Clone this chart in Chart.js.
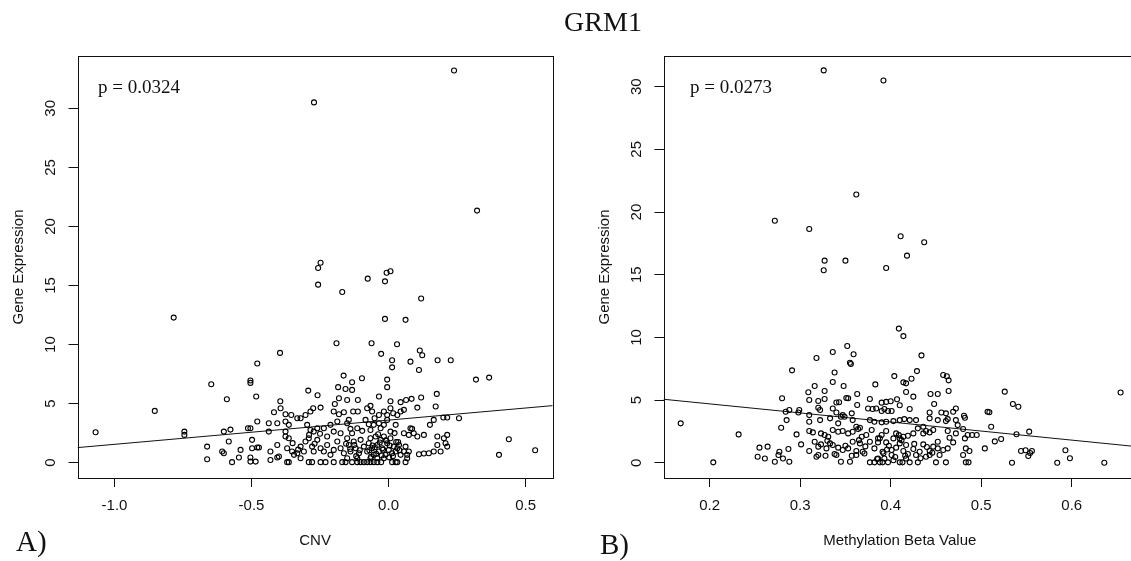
<!DOCTYPE html>
<html>
<head>
<meta charset="utf-8">
<script src="https://cdn.jsdelivr.net/npm/chart.js@4.4.0/dist/chart.umd.min.js"></script>
<style>
html, body { margin: 0; padding: 0; background: #fff; overflow: hidden; width: 1131px; height: 561px; }
canvas { position: absolute; top: 0; }
.lbl { position: absolute; font-family: "Liberation Serif", "Times New Roman", serif; color: #111; line-height: 1; white-space: nowrap; }
</style>
</head>
<body>
<canvas id="panelA" width="560" height="561" style="left:0px"></canvas>
<canvas id="panelB" width="580" height="561" style="left:586px"></canvas>
<div class="lbl" style="left:603px; top:8px; font-size:28px; transform:translateX(-50%)">GRM1</div>
<div class="lbl" style="left:98px; top:77px; font-size:19px">p = 0.0324</div>
<div class="lbl" style="left:690px; top:77px; font-size:19px">p = 0.0273</div>
<div class="lbl" style="left:16px; top:527px; font-size:29px">A)</div>
<div class="lbl" style="left:600px; top:530px; font-size:29px">B)</div>
<script>
"use strict";

// panel A: CNV vs gene expression
const cnvX = [
  -0.272, 0.239, 0.323, -0.248, -0.257, -0.257, 0.007, -0.007, -0.076, -0.013, -0.169, 0.119, -0.784, -0.013, 0.062,
  -0.19, -0.062, 0.031, -0.396, -0.027, 0.114, 0.123, 0.013, 0.013, 0.08, 0.179, 0.227, -0.479, 0.111,
  -0.647, -0.504, -0.504, -0.164, -0.097, -0.133, -0.184, -0.157, -0.133, -0.005, -0.005, 0.319, 0.367, -0.59, -0.483,
  -0.293, -0.259, -0.395, -0.181, -0.151, -0.112, -0.035, 0.007, 0.044, 0.064, 0.084, 0.119, 0.176, -0.196,
  -0.853, -1.069, 0.439, 0.535,
  -0.418, -0.394, -0.376, -0.355, -0.321, -0.303, -0.285, -0.275, -0.248, -0.2, -0.181, -0.163, -0.145, -0.129, -0.112,
  -0.078, -0.066, -0.06, -0.051, -0.035, -0.017, -0.005, 0.007, 0.017, 0.032, 0.044, 0.056, 0.105, 0.172, 0.165, 0.2,
  0.214, 0.257, 0.151, 0.086,
  -0.745, -0.745, -0.601, -0.577, -0.513, -0.504, -0.479, -0.437, -0.437, -0.406, -0.376, -0.376, -0.376, -0.364, -0.333,
  -0.297, -0.285, -0.273, -0.26, -0.236, -0.224, -0.212, -0.2, -0.187, -0.175, -0.151, -0.139, -0.133, -0.114, -0.096,
  -0.084, -0.072, -0.066, -0.054, -0.035, -0.029, -0.017, -0.005, 0.007, 0.026, 0.056, 0.08, 0.074, 0.092, 0.105, 0.129,
  0.178, 0.202, 0.214,
  -0.662, -0.607, -0.601, -0.583, -0.54, -0.498, -0.498, -0.479, -0.473, -0.431, -0.406, -0.4, -0.37, -0.364, -0.352,
  -0.345, -0.333, -0.321, -0.309, -0.303, -0.291, -0.279, -0.273, -0.26, -0.248, -0.236, -0.224, -0.212, -0.2, -0.187,
  -0.175, -0.163, -0.151, -0.145, -0.139, -0.127, -0.12, -0.108, -0.102, -0.09, -0.078, -0.072, -0.066, -0.06, -0.054,
  -0.047, -0.041, -0.035, -0.029, -0.023, -0.017, -0.011, -0.005, 0.001, 0.007, 0.013, 0.019, 0.026, 0.032, 0.038,
  0.044, 0.056, 0.062, 0.068, 0.074, 0.111, 0.129, 0.147, 0.165, 0.178, 0.19, 0.208, 0.214, 0.403,
  -0.662, -0.571, -0.546, -0.504, -0.504, -0.485, -0.37, -0.364, -0.291, -0.279, -0.248, -0.23, -0.2, -0.169, -0.157,
  -0.133, -0.114, -0.102, -0.09, -0.078, -0.066, -0.054, -0.041, -0.027, 0.013, 0.026, 0.032, 0.062, 0.068, -0.066,
  -0.041, -0.017, -0.114, -0.151, -0.321, -0.406, -0.431,
  // overlapping marks in the densest cluster
  -0.07, -0.058, -0.045, -0.032, -0.02, -0.008, 0.004, 0.016, 0.028, 0.04, -0.064, -0.05, -0.038, -0.025, -0.01,
  0.002, 0.022, 0.035, -0.155, -0.14, -0.125, -0.118, -0.105, -0.35, -0.33, -0.29, -0.27, -0.25
];
const cnvY = [
  30.5, 33.2, 21.34, 16.93, 16.48, 15.07, 16.2, 16.08, 15.58, 15.35, 14.45, 13.9, 12.28, 12.17, 12.09,
  10.11, 10.11, 10.02, 9.29, 9.21, 9.49, 9.09, 8.67, 8.07, 8.55, 8.67, 8.67, 8.39, 7.85,
  6.64, 6.95, 6.75, 7.37, 7.15, 6.81, 6.39, 6.24, 6.16, 7.03, 6.39, 7.03, 7.2, 5.37, 5.6,
  6.1, 5.71, 5.2, 5.45, 5.31, 5.31, 5.6, 5.2, 5.12, 5.31, 5.4, 5.51, 5.82, 4.97,
  4.38, 2.57, 1.98, 1.05,
  4.27, 4.61, 4.1, 4.04, 3.76, 4.04, 4.33, 4.61, 4.66, 4.33, 4.1, 4.27, 3.62, 4.33, 4.33,
  4.61, 4.81, 4.33, 3.76, 4.04, 4.33, 4.04, 4.61, 4.18, 4.04, 4.33, 4.47, 4.66, 4.75, 3.62, 3.82,
  3.82, 3.76, 3.2, 2.86,
  2.63, 2.35, 2.63, 2.8, 2.91, 2.91, 3.48, 3.34, 2.63, 3.34, 3.48, 2.63, 2.21, 3.2, 3.76,
  3.2, 2.77, 2.63, 2.91, 2.91, 2.21, 3.2, 2.63, 3.48, 2.49, 3.34, 2.86, 2.49, 2.91, 2.69,
  3.62, 3.25, 2.77, 3.2, 3.34, 2.91, 3.2, 3.62, 2.63, 3.2, 2.49, 2.91, 2.35, 2.49, 2.21, 2.35,
  2.21, 2.07, 2.35,
  1.36, 0.94, 0.8, 1.79, 1.08, 1.93, 1.22, 1.28, 1.28, 0.94, 1.5, 0.52, 1.22, 2.07, 0.94,
  0.66, 0.8, 1.36, 0.94, 1.79, 2.07, 1.36, 0.94, 1.93, 1.22, 0.94, 1.5, 0.66, 1.08, 1.79,
  1.22, 0.8, 2.07, 1.5, 0.94, 1.79, 1.22, 0.8, 1.93, 1.36, 0.94, 1.64, 2.07, 1.22, 0.66,
  2.21, 1.5, 0.94, 1.93, 1.22, 2.21, 0.66, 1.64, 1.08, 2.07, 0.8, 1.36, 0.94, 1.22, 1.5,
  0.66, 0.94, 1.36, 0.66, 0.94, 0.71, 0.77, 0.8, 0.94, 1.5, 0.94, 1.64, 1.36, 0.66,
  0.29, 0.04, 0.43, 0.43, 0.09, 0.09, 0.04, 0.04, 0.04, 0.04, 0.04, 0.04, 0.04, 0.04, 0.04,
  0.04, 0.04, 0.04, 0.04, 0.04, 0.04, 0.04, 0.04, 0.04, 0.04, 0.04, 0.04, 0.04, 0.37, 0.37,
  0.37, 0.37, 0.37, 0.37, 0.37, 0.43, 0.23,
  1.05, 1.45, 0.75, 1.7, 1.1, 1.85, 1.45, 0.55, 1.75, 1.05, 0.5, 1.3, 2.4, 0.6, 1.9,
  0.45, 2.5, 1.75, 1.6, 1.15, 1.5, 0.55, 1.05, 1.65, 1.1, 2.35, 1.6, 2.45
];
const cnvFit = [3.6, 2.05];            // intercept, slope
const cnvRange = [-1.135, 0.599];
const cnvTicks = [-1.0, -0.5, 0.0, 0.5];
const cnvYRange = [-1.3, 34.43];

// panel B: methylation beta value vs gene expression
const methX = [
  0.326, 0.392, 0.362, 0.272, 0.31, 0.411, 0.437, 0.418, 0.327, 0.326, 0.35, 0.395, 0.409, 0.414, 0.352,
  0.336, 0.359, 0.318, 0.434, 0.355, 0.356, 0.291, 0.338, 0.429, 0.404, 0.423, 0.458, 0.462,
  0.414, 0.417, 0.464, 0.316, 0.336, 0.327, 0.348, 0.383, 0.309, 0.363, 0.353, 0.417, 0.425, 0.444, 0.452,
  0.464, 0.28, 0.31, 0.32, 0.327, 0.34, 0.343, 0.351, 0.377, 0.39, 0.395, 0.4, 0.407, 0.41, 0.448,
  0.284, 0.288, 0.298, 0.299, 0.31, 0.32, 0.322, 0.336, 0.34, 0.347, 0.357, 0.363, 0.375, 0.38, 0.384,
  0.39, 0.393, 0.397, 0.401, 0.421, 0.443, 0.456, 0.461, 0.469, 0.472, 0.481, 0.482, 0.507,
  0.285, 0.31, 0.322, 0.333, 0.342, 0.345, 0.349, 0.358, 0.362, 0.366, 0.377, 0.382, 0.39, 0.395, 0.403,
  0.41, 0.415, 0.421, 0.428, 0.436, 0.443, 0.452, 0.461, 0.463, 0.472, 0.474, 0.48, 0.49, 0.495,
  0.232, 0.279, 0.296, 0.31, 0.314, 0.323, 0.327, 0.331, 0.336, 0.342, 0.347, 0.353, 0.358, 0.364, 0.368,
  0.373, 0.379, 0.386, 0.39, 0.395, 0.403, 0.406, 0.41, 0.414, 0.419, 0.425, 0.43, 0.436, 0.439, 0.443,
  0.447, 0.452, 0.463, 0.465, 0.472, 0.482, 0.485,
  0.255, 0.264, 0.277, 0.287, 0.301, 0.31, 0.316, 0.32, 0.323, 0.329, 0.333, 0.336, 0.342, 0.347, 0.353,
  0.358, 0.362, 0.366, 0.369, 0.377, 0.382, 0.386, 0.391, 0.395, 0.401, 0.406, 0.41, 0.414, 0.417, 0.425,
  0.432, 0.436, 0.443, 0.447, 0.452, 0.458, 0.463, 0.469, 0.483, 0.487, 0.504,
  0.204, 0.253, 0.261, 0.272, 0.276, 0.281, 0.288, 0.318, 0.32, 0.328, 0.34, 0.345, 0.355, 0.362, 0.371,
  0.377, 0.382, 0.386, 0.388, 0.391, 0.393, 0.397, 0.401, 0.41, 0.413, 0.417, 0.421, 0.428, 0.43, 0.439,
  0.443, 0.45, 0.454, 0.461, 0.48, 0.483, 0.486,
  0.526, 0.535, 0.541, 0.509, 0.511, 0.515, 0.522, 0.539, 0.553, 0.544, 0.549, 0.556, 0.552, 0.554, 0.534,
  0.584, 0.593, 0.598, 0.636, 0.654, 0.168,
  // overlapping marks in the densest cluster
  0.385, 0.392, 0.398, 0.405, 0.412, 0.419, 0.426, 0.433, 0.44, 0.446, 0.388, 0.396, 0.403, 0.409, 0.416,
  0.35, 0.357, 0.365, 0.372, 0.33, 0.338
];
const methY = [
  31.3, 30.5, 21.4, 19.31, 18.65, 18.07, 17.59, 16.52, 16.12, 15.35, 16.12, 15.54, 10.7, 10.1, 9.31,
  8.83, 8.65, 8.35, 8.56, 7.98, 7.87, 7.37, 7.2, 7.31, 6.91, 6.7, 7.0, 6.9,
  6.41, 6.33, 6.57, 6.12, 6.44, 5.72, 6.12, 6.25, 5.62, 5.48, 5.14, 5.64, 5.27, 5.48, 5.48,
  5.72, 5.14, 5.0, 4.92, 5.08, 4.8, 4.82, 5.16, 5.08, 4.79, 4.85, 4.9, 5.06, 4.58, 4.69,
  4.07, 4.2, 4.01, 4.2, 3.8, 4.39, 4.2, 4.33, 4.01, 3.8, 3.94, 4.6, 4.33, 4.28, 4.33,
  4.12, 4.28, 4.12, 4.12, 4.28, 4.01, 4.01, 3.94, 4.07, 4.33, 3.75, 3.59, 4.07,
  3.4, 3.27, 3.4, 3.54, 3.14, 3.67, 3.67, 3.4, 2.87, 2.79, 3.4, 3.27, 3.22, 3.27, 3.32,
  3.4, 3.48, 3.4, 3.4, 2.87, 3.54, 3.4, 3.32, 3.48, 3.4, 3.0, 2.69, 2.21, 2.21,
  2.26, 2.79, 2.26, 2.53, 2.42, 2.34, 2.21, 2.07, 2.61, 2.47, 2.53, 2.34, 2.47, 2.69, 2.07,
  2.21, 2.61, 1.94, 2.21, 2.53, 1.94, 2.34, 1.94, 2.07, 2.15, 2.34, 2.74, 2.34, 2.53, 2.42,
  2.61, 1.67, 2.53, 1.99, 2.34, 1.94, 2.21,
  1.2, 1.28, 0.88, 1.09, 1.46, 0.93, 1.67, 1.28, 1.46, 1.14, 1.54, 1.41, 1.2, 1.01, 1.14,
  1.67, 0.93, 1.54, 0.88, 1.67, 1.14, 1.62, 0.88, 1.62, 1.01, 1.2, 1.54, 0.93, 1.41, 1.09,
  0.88, 1.46, 0.93, 1.28, 1.14, 1.01, 1.14, 1.62, 1.14, 0.93, 1.14,
  0.03, 0.48, 0.34, 0.08, 0.61, 0.34, 0.08, 0.48, 0.61, 0.56, 0.61, 0.08, 0.08, 0.61, 0.74,
  0.03, 0.03, 0.34, 0.03, 0.03, 0.34, 0.03, 0.61, 0.03, 0.03, 0.34, 0.03, 0.61, 0.03, 0.48,
  0.61, 0.03, 0.61, 0.03, 0.61, 0.03, 0.03,
  5.67, 4.69, 4.47, 4.02, 2.87, 1.7, 1.89, 2.27, 2.48, 0.94, 1.0, 0.94, 0.54, 0.78, 0.0,
  0.0, 1.0, 0.35, 0.0, 5.6, 3.14,
  0.3, 0.75, 1.35, 0.45, 1.8, 0.7, 1.5, 0.35, 1.25, 0.8, 1.95, 1.05, 0.2, 2.2, 0.55,
  1.35, 0.55, 1.8, 1.3, 1.75, 0.7
];
const methFit = [6.14, -7.23];
const methRange = [0.149, 0.671];     // box runs just past the right edge of the page
const methTicks = [0.2, 0.3, 0.4, 0.5, 0.6];
const methYRange = [-1.22, 32.45];

const geneTicks = [0, 5, 10, 15, 20, 25, 30];

const axisFont = { family: "'Liberation Sans', Arial, sans-serif", size: 15 };
const ink = "#111";

// R style closed box round the plot region
const boxPlugin = {
  id: "rbox",
  afterDatasetsDraw(chart) {
    const a = chart.chartArea;
    const ctx = chart.ctx;
    ctx.save();
    ctx.strokeStyle = ink;
    ctx.lineWidth = 1;
    ctx.strokeRect(Math.round(a.left) + 0.5, Math.round(a.top) + 0.5,
                   Math.round(a.right - a.left), Math.round(a.bottom - a.top));
    ctx.restore();
  }
};

function makePanel(id, xs, ys, fit, xRange, xTicks, yRange, xTitle, rightPad) {
  const pts = xs.map(function (x, i) { return { x: x, y: ys[i] }; });
  const fitLine = xRange.map(function (x) { return { x: x, y: fit[0] + fit[1] * x }; });

  return new Chart(document.getElementById(id), {
    type: "scatter",
    data: {
      datasets: [{
        data: pts,
        borderColor: "#000",
        backgroundColor: "rgba(0,0,0,0)",
        borderWidth: 1.1,
        pointRadius: 2.5,
        pointHoverRadius: 2.5
      }, {
        type: "line",
        data: fitLine,
        borderColor: ink,
        borderWidth: 1,
        pointRadius: 0,
        fill: false
      }]
    },
    options: {
      responsive: false,
      animation: false,
      devicePixelRatio: 1,
      events: [],
      layout: { padding: { left: 0, top: 56, right: rightPad, bottom: 0 } },
      plugins: { legend: { display: false }, tooltip: { enabled: false } },
      scales: {
        x: {
          type: "linear",
          min: xRange[0],
          max: xRange[1],
          afterBuildTicks: function (s) { s.ticks = xTicks.map(function (v) { return { value: v }; }); },
          afterFit: function (s) { s.height = 83; },
          ticks: {
            callback: function (v) { return Number(v).toFixed(1); },
            font: axisFont, color: ink, padding: 10, maxRotation: 0, autoSkip: false
          },
          grid: { drawOnChartArea: false, color: ink, tickLength: 9 },
          border: { display: false },
          title: { display: true, text: xTitle, font: axisFont, color: ink, padding: { top: 0, bottom: 11 } }
        },
        y: {
          type: "linear",
          min: yRange[0],
          max: yRange[1],
          afterBuildTicks: function (s) { s.ticks = geneTicks.map(function (v) { return { value: v }; }); },
          afterFit: function (s) { s.width = 77.5; },
          ticks: {
            callback: function (v) { return String(v); },
            font: axisFont, color: ink, padding: 9, minRotation: 90, maxRotation: 90,
            crossAlign: "center", autoSkip: false
          },
          grid: { drawOnChartArea: false, color: ink, tickLength: 9 },
          border: { display: false },
          title: { display: true, text: "Gene Expression", font: axisFont, color: ink, padding: { top: 10, bottom: 0 } }
        }
      }
    },
    plugins: [boxPlugin]
  });
}

makePanel("panelA", cnvX, cnvY, cnvFit, cnvRange, cnvTicks, cnvYRange, "CNV", 7.3);
makePanel("panelB", methX, methY, methFit, methRange, methTicks, methYRange, "Methylation Beta Value", 30);
</script>
</body>
</html>
